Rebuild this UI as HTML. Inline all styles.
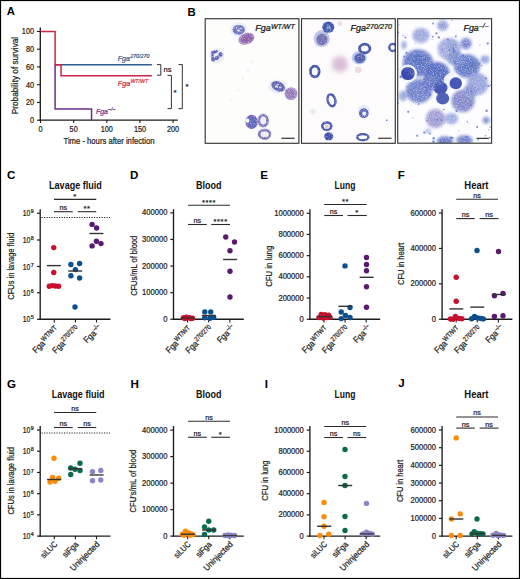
<!DOCTYPE html>
<html><head><meta charset="utf-8"><style>
html,body{margin:0;padding:0;background:#fff;}
svg{display:block;font-family:"Liberation Sans", sans-serif;}
</style></head><body>
<svg width="520" height="579" viewBox="0 0 520 579">
<rect width="520" height="579" fill="#fff"/>
<defs>
<filter id="bl" x="-50%" y="-50%" width="200%" height="200%"><feGaussianBlur stdDeviation="0.6"/></filter>
<filter id="bl2" x="-50%" y="-50%" width="200%" height="200%"><feGaussianBlur stdDeviation="1.4"/></filter>
<filter id="bl3" x="-50%" y="-50%" width="200%" height="200%"><feGaussianBlur stdDeviation="2.5"/></filter>
<filter id="speck" x="398" y="19" width="94" height="124" filterUnits="userSpaceOnUse">
 <feTurbulence type="fractalNoise" baseFrequency="0.75" numOctaves="2" seed="7"/>
 <feColorMatrix type="matrix" values="0 0 0 0 1  0 0 0 0 1  0 0 0 0 1  3.2 0 0 0 -1.45"/>
</filter>
<filter id="speck2" x="398" y="19" width="94" height="124" filterUnits="userSpaceOnUse">
 <feTurbulence type="fractalNoise" baseFrequency="0.9" numOctaves="1" seed="11"/>
 <feColorMatrix type="matrix" values="0 0 0 0 0.25  0 0 0 0 0.3  0 0 0 0 0.65  0 3.5 0 0 -2.0"/>
</filter>
<filter id="gr1" filterUnits="userSpaceOnUse" x="205" y="18" width="95" height="126">
 <feTurbulence type="fractalNoise" baseFrequency="0.85" numOctaves="2" seed="4" result="n"/>
 <feColorMatrix in="n" type="matrix" values="0 0 0 0 0  0 0 0 0 0  0 0 0 0 0  0 0 0 -1.6 1.75" result="na"/>
 <feComposite in="SourceGraphic" in2="na" operator="in" result="g"/>
 <feGaussianBlur in="g" stdDeviation="0.45"/>
</filter>
<filter id="gr2" filterUnits="userSpaceOnUse" x="301" y="18" width="96" height="126">
 <feTurbulence type="fractalNoise" baseFrequency="0.85" numOctaves="2" seed="9" result="n"/>
 <feColorMatrix in="n" type="matrix" values="0 0 0 0 0  0 0 0 0 0  0 0 0 0 0  0 0 0 -1.4 1.7" result="na"/>
 <feComposite in="SourceGraphic" in2="na" operator="in" result="g"/>
 <feGaussianBlur in="g" stdDeviation="0.45"/>
</filter>
<clipPath id="cp1"><rect x="205.5" y="19" width="93.5" height="124"/></clipPath>
<clipPath id="cp2"><rect x="301.8" y="19" width="94" height="124"/></clipPath>
<clipPath id="cp3"><rect x="398" y="19" width="94" height="124"/></clipPath>
</defs>
<g clip-path="url(#cp1)">
<rect x="205.5" y="19" width="93.5" height="124" fill="#fdfdfb"/>
<g filter="url(#gr1)">
<ellipse cx="238.8" cy="29.8" rx="8.5" ry="7.5" fill="#e9ecf6" />
<ellipse cx="217" cy="55.6" rx="7.6" ry="7.6" fill="#e9ecf6" />
<ellipse cx="277.5" cy="86.4" rx="9.5" ry="7" fill="#e9ecf6" />
<ellipse cx="263.5" cy="120.5" rx="6.5" ry="8" fill="#e9ecf6" />
<ellipse cx="264.4" cy="133" rx="7.5" ry="6" fill="#e9ecf6" />
<ellipse cx="248" cy="70" rx="2" ry="2" fill="#eef0f7" />
<ellipse cx="243" cy="78" rx="1.5" ry="1.5" fill="#eef0f7" />
<ellipse cx="238" cy="90" rx="1.2" ry="1.2" fill="#eef0f7" />
<ellipse cx="252" cy="62" rx="1.5" ry="1.5" fill="#eef0f7" />
<ellipse cx="231" cy="100" rx="1" ry="1" fill="#eef0f7" />
<ellipse cx="238.8" cy="29.8" rx="6.2" ry="4.9" fill="#6a74bd" />
<ellipse cx="238.5" cy="30.5" rx="1.6" ry="1.0" fill="#dfe3f3" />
<ellipse cx="241" cy="28.5" rx="0.9" ry="0.8" fill="#dfe3f3" />
<ellipse cx="236.5" cy="28" rx="0.8" ry="0.7" fill="#dfe3f3" />
<ellipse cx="246.4" cy="38.7" rx="8.3" ry="5.6" fill="#a783c0" transform="rotate(-20 246.4 38.7)"/>
<ellipse cx="246.8" cy="38.5" rx="6.2" ry="4.0" fill="#8a5ca9" transform="rotate(-20 246.8 38.5)"/>
<ellipse cx="214.5" cy="52" rx="3.6" ry="1.6" fill="#5a63b5" transform="rotate(-15 214.5 52)"/>
<ellipse cx="220.5" cy="54.6" rx="2.1" ry="2.6" fill="#5a63b5" transform="rotate(0 220.5 54.6)"/>
<ellipse cx="217" cy="57.8" rx="2.6" ry="2.0" fill="#5a63b5" transform="rotate(-30 217 57.8)"/>
<ellipse cx="213.2" cy="59.6" rx="2.2" ry="2.0" fill="#5a63b5" transform="rotate(0 213.2 59.6)"/>
<ellipse cx="212.6" cy="55.6" rx="1.3" ry="2.9" fill="#5a63b5" transform="rotate(0 212.6 55.6)"/>
<ellipse cx="278.1" cy="86.4" rx="7.3" ry="4.8" fill="#6468b2" transform="rotate(25 278.1 86.4)"/>
<ellipse cx="276.5" cy="86.5" rx="1.6" ry="1.0" fill="#e6e8f4" />
<ellipse cx="280" cy="87.5" rx="1.2" ry="0.8" fill="#e6e8f4" />
<ellipse cx="278" cy="84.5" rx="1" ry="0.7" fill="#e6e8f4" />
<ellipse cx="291" cy="93.7" rx="6.5" ry="6.5" fill="#a48cc6" />
<ellipse cx="291" cy="93.7" rx="4.8" ry="4.8" fill="#9078b6" />
<ellipse cx="251.6" cy="121.9" rx="6.2" ry="7.2" fill="#7263b3" />
<ellipse cx="252.6" cy="122.2" rx="4.2" ry="5.2" fill="#5468bc" />
<ellipse cx="247.4" cy="120.6" rx="2.0" ry="2.2" fill="#f4f5fb" />
<ellipse cx="263.2" cy="120.6" rx="4.3" ry="5.3" fill="none" stroke="#7a6fb8" stroke-width="2.6" />
<ellipse cx="262.8" cy="121.2" rx="1.4" ry="2.0" fill="#eef0f8" />
<ellipse cx="264.6" cy="134.2" rx="5.4" ry="4.2" fill="none" stroke="#7c70b6" stroke-width="2.6" />
<ellipse cx="264.4" cy="134.6" rx="2.2" ry="1.4" fill="#eceef7" />
</g>
<rect x="281.4" y="137.7" width="13.2" height="1.1" fill="#222"/>
</g>
<g clip-path="url(#cp2)">
<rect x="301.8" y="19" width="94" height="124" fill="#fdfbfc"/>
<g filter="url(#bl3)">
<ellipse cx="339.8" cy="64.2" rx="8" ry="8" fill="#d9bdd8" />
</g>
<g filter="url(#gr2)">
<ellipse cx="339.8" cy="23.5" rx="2.4" ry="2.4" fill="#efd9e2" />
<ellipse cx="358.2" cy="69.7" rx="3.3" ry="3.3" fill="#efd7df" />
<ellipse cx="321.7" cy="38.7" rx="8" ry="8.4" fill="#b3c0e6" />
<ellipse cx="321.9" cy="39.5" rx="5.5" ry="5.8" fill="#7572b6" />
<ellipse cx="328.3" cy="27.2" rx="6" ry="5.6" fill="#3f56aa" />
<ellipse cx="328.5" cy="27.4" rx="2.5" ry="2" fill="#7d8cc8" />
<ellipse cx="359.2" cy="57.7" rx="7.6" ry="6.7" fill="#b8c6e8" />
<ellipse cx="359.8" cy="58.2" rx="5.5" ry="5" fill="#5962b2" />
<ellipse cx="364.7" cy="48.5" rx="5.2" ry="4.3" fill="none" stroke="#4154a8" stroke-width="2.8" />
<ellipse cx="364.7" cy="48.5" rx="2.9" ry="2.2" fill="#fbfbfd" />
<ellipse cx="314.8" cy="71.5" rx="4.4" ry="5.4" fill="none" stroke="#4154a8" stroke-width="2.7" />
<ellipse cx="314.8" cy="71.5" rx="2.1" ry="3.0" fill="#fafafd" />
<ellipse cx="331.5" cy="100.3" rx="3.8" ry="6" fill="none" stroke="#4657aa" stroke-width="2.4" transform="rotate(-15 331.5 100.3)"/>
<ellipse cx="363.8" cy="110" rx="6" ry="5" fill="#e6eaf5" />
<ellipse cx="363.8" cy="113.2" rx="4.8" ry="5" fill="#5a66b4" />
<ellipse cx="364.2" cy="113.6" rx="2" ry="2.2" fill="#eef0f8" />
<ellipse cx="326.8" cy="126.2" rx="4.5" ry="3.8" fill="none" stroke="#4659ad" stroke-width="2.5" />
<ellipse cx="326.8" cy="126.4" rx="2.3" ry="1.6" fill="#e8c4d6" />
<ellipse cx="328.7" cy="136.3" rx="4.5" ry="4" fill="#4054aa" />
<ellipse cx="362.8" cy="137.2" rx="5.6" ry="3" fill="none" stroke="#4659ad" stroke-width="2.3" />
<ellipse cx="392.8" cy="47.5" rx="3.5" ry="3.6" fill="none" stroke="#4659ad" stroke-width="2.3" />
<ellipse cx="313" cy="111.4" rx="2.8" ry="2.8" fill="#e8ebf5" />
<ellipse cx="386.8" cy="120.2" rx="0.8" ry="0.8" fill="#3050b0" />
</g>
<rect x="378.2" y="137.7" width="13.3" height="1.1" fill="#222"/>
</g>
<mask id="m3" maskUnits="userSpaceOnUse" x="398" y="19" width="94" height="124"><g filter="url(#bl2)"><ellipse cx="421" cy="35.4" rx="8.5" ry="7.5" fill="#fff"/><ellipse cx="442.7" cy="25.6" rx="5.5" ry="5" fill="#fff"/><ellipse cx="449.2" cy="49" rx="11.5" ry="11" fill="#fff"/><ellipse cx="452" cy="45" rx="5" ry="5" fill="#fff"/><ellipse cx="466" cy="43.5" rx="5.5" ry="5.5" fill="#fff"/><ellipse cx="418" cy="63" rx="15" ry="13.5" fill="#fff"/><ellipse cx="437" cy="74" rx="12.5" ry="12" fill="#fff"/><ellipse cx="467" cy="66" rx="13" ry="11.5" fill="#fff"/><ellipse cx="455" cy="58" rx="8" ry="7" fill="#fff"/><ellipse cx="419" cy="91" rx="13" ry="12" fill="#fff"/><ellipse cx="430" cy="83" rx="8" ry="8" fill="#fff"/><ellipse cx="477.5" cy="84" rx="10.5" ry="11" fill="#fff"/><ellipse cx="463" cy="101" rx="11.5" ry="11" fill="#fff"/><ellipse cx="470" cy="92" rx="7" ry="7" fill="#fff"/><ellipse cx="435.5" cy="118.5" rx="9.5" ry="9.5" fill="#fff"/><ellipse cx="451.5" cy="118.5" rx="6.5" ry="5.5" fill="#fff"/><ellipse cx="444.9" cy="141" rx="8" ry="4.5" fill="#fff"/><ellipse cx="464.5" cy="140" rx="8" ry="4.5" fill="#fff"/><ellipse cx="485" cy="59.4" rx="4.5" ry="4" fill="#fff"/><ellipse cx="486.2" cy="120.3" rx="3.5" ry="3.2" fill="#fff"/><ellipse cx="428" cy="131" rx="3" ry="2" fill="#fff"/><ellipse cx="404" cy="45" rx="2.5" ry="4" fill="#fff"/><ellipse cx="403" cy="96" rx="4" ry="5" fill="#fff"/></g></mask>
<g clip-path="url(#cp3)">
<rect x="398" y="19" width="94" height="124" fill="#fdfdff"/>
<g filter="url(#bl2)">
<ellipse cx="421" cy="35.4" rx="8.5" ry="7.5" fill="#9da8dd" />
<ellipse cx="442.7" cy="25.6" rx="5.5" ry="5" fill="#94a0da" />
<ellipse cx="449.2" cy="49" rx="11.5" ry="11" fill="#a4aee1" />
<ellipse cx="452" cy="45" rx="5" ry="5" fill="#8f9cd7" />
<ellipse cx="466" cy="43.5" rx="5.5" ry="5.5" fill="#7684cd" />
<ellipse cx="418" cy="63" rx="15" ry="13.5" fill="#6277c7" />
<ellipse cx="437" cy="74" rx="12.5" ry="12" fill="#576bc2" />
<ellipse cx="467" cy="66" rx="13" ry="11.5" fill="#647ac8" />
<ellipse cx="455" cy="58" rx="8" ry="7" fill="#7b8ed1" />
<ellipse cx="419" cy="91" rx="13" ry="12" fill="#7183cb" />
<ellipse cx="430" cy="83" rx="8" ry="8" fill="#6879c7" />
<ellipse cx="477.5" cy="84" rx="10.5" ry="11" fill="#9aa5dd" />
<ellipse cx="463" cy="101" rx="11.5" ry="11" fill="#8488ca" />
<ellipse cx="470" cy="92" rx="7" ry="7" fill="#8894d3" />
<ellipse cx="435.5" cy="118.5" rx="9.5" ry="9.5" fill="#a19dd5" />
<ellipse cx="451.5" cy="118.5" rx="6.5" ry="5.5" fill="#9dace1" />
<ellipse cx="444.9" cy="141" rx="8" ry="4.5" fill="#677ac8" />
<ellipse cx="464.5" cy="140" rx="8" ry="4.5" fill="#6f81cb" />
<ellipse cx="485" cy="59.4" rx="4.5" ry="4" fill="#97a4dd" />
<ellipse cx="486.2" cy="120.3" rx="3.5" ry="3.2" fill="#8090d3" />
<ellipse cx="428" cy="131" rx="3" ry="2" fill="#a8b2e3" />
<ellipse cx="404" cy="45" rx="2.5" ry="4" fill="#9da8de" />
<ellipse cx="403" cy="96" rx="4" ry="5" fill="#98a5dd" />
</g>
<g filter="url(#bl)">
<ellipse cx="407.9" cy="73.5" rx="9.2" ry="9" fill="#f4f5fc" />
<ellipse cx="407.9" cy="73.5" rx="6.8" ry="6.6" fill="#3a4cab" />
<ellipse cx="452.5" cy="81.1" rx="8.9" ry="8.7" fill="#f3f4fb" />
<ellipse cx="455.8" cy="83.3" rx="6.2" ry="6" fill="#4458b3" />
<ellipse cx="440.5" cy="88" rx="7" ry="6.5" fill="#4659b5" />
<ellipse cx="442.7" cy="98.5" rx="6.5" ry="6" fill="#4e62b8" />
<ellipse cx="419" cy="60" rx="7" ry="6" fill="#586fc2" />
<ellipse cx="470" cy="66" rx="6" ry="5" fill="#5d76c4" />
</g>
<g mask="url(#m3)"><rect x="398" y="19" width="94" height="124" filter="url(#speck2)" opacity="0.6"/><rect x="398" y="19" width="94" height="124" filter="url(#speck)" opacity="0.45"/></g>
<circle cx="456.6" cy="111.0" r="1.12" fill="#5f78cc" opacity="0.85"/>
<circle cx="486.6" cy="110.7" r="1.23" fill="#5f78cc" opacity="0.85"/>
<circle cx="400.7" cy="76.7" r="1.25" fill="#5f78cc" opacity="0.85"/>
<circle cx="459.0" cy="130.7" r="0.50" fill="#5f78cc" opacity="0.85"/>
<circle cx="442.1" cy="49.6" r="0.89" fill="#5f78cc" opacity="0.85"/>
<circle cx="452.0" cy="20.6" r="0.60" fill="#5f78cc" opacity="0.85"/>
<circle cx="424.3" cy="132.6" r="1.09" fill="#5f78cc" opacity="0.85"/>
<circle cx="413.0" cy="117.8" r="0.52" fill="#5f78cc" opacity="0.85"/>
<circle cx="456.0" cy="34.7" r="0.40" fill="#5f78cc" opacity="0.85"/>
<circle cx="479.9" cy="45.0" r="0.59" fill="#5f78cc" opacity="0.85"/>
<circle cx="490.3" cy="127.2" r="0.66" fill="#5f78cc" opacity="0.85"/>
<circle cx="488.4" cy="85.9" r="1.01" fill="#5f78cc" opacity="0.85"/>
<circle cx="417.2" cy="135.7" r="1.02" fill="#5f78cc" opacity="0.85"/>
<circle cx="488.9" cy="129.8" r="0.67" fill="#5f78cc" opacity="0.85"/>
<circle cx="432.0" cy="39.6" r="0.53" fill="#5f78cc" opacity="0.85"/>
<circle cx="404.1" cy="56.4" r="0.94" fill="#5f78cc" opacity="0.85"/>
<circle cx="398.3" cy="103.1" r="0.70" fill="#5f78cc" opacity="0.85"/>
<circle cx="427.1" cy="120.5" r="0.83" fill="#5f78cc" opacity="0.85"/>
<circle cx="427.7" cy="78.7" r="1.03" fill="#5f78cc" opacity="0.85"/>
<circle cx="403.4" cy="139.9" r="0.42" fill="#5f78cc" opacity="0.85"/>
<circle cx="468.5" cy="123.8" r="0.42" fill="#5f78cc" opacity="0.85"/>
<circle cx="472.0" cy="64.4" r="0.92" fill="#5f78cc" opacity="0.85"/>
<circle cx="398.9" cy="24.8" r="0.56" fill="#5f78cc" opacity="0.85"/>
<circle cx="487.8" cy="43.4" r="1.08" fill="#5f78cc" opacity="0.85"/>
<circle cx="485.4" cy="135.8" r="0.71" fill="#5f78cc" opacity="0.85"/>
<circle cx="431.4" cy="84.1" r="1.10" fill="#5f78cc" opacity="0.85"/>
<circle cx="408.2" cy="111.8" r="1.12" fill="#5f78cc" opacity="0.85"/>
<circle cx="430.0" cy="94.7" r="1.23" fill="#5f78cc" opacity="0.85"/>
<circle cx="430.0" cy="133.6" r="0.89" fill="#5f78cc" opacity="0.85"/>
<circle cx="427.4" cy="58.3" r="0.56" fill="#5f78cc" opacity="0.85"/>
<circle cx="405.4" cy="37.5" r="1.02" fill="#5f78cc" opacity="0.85"/>
<circle cx="491.7" cy="39.0" r="0.44" fill="#5f78cc" opacity="0.85"/>
<circle cx="490.7" cy="85.2" r="0.77" fill="#5f78cc" opacity="0.85"/>
<circle cx="420.3" cy="92.7" r="1.14" fill="#5f78cc" opacity="0.85"/>
<circle cx="440.8" cy="71.3" r="0.45" fill="#5f78cc" opacity="0.85"/>
<circle cx="444.4" cy="123.0" r="0.52" fill="#5f78cc" opacity="0.85"/>
<circle cx="466.8" cy="136.8" r="0.97" fill="#5f78cc" opacity="0.85"/>
<circle cx="438.8" cy="37.5" r="1.16" fill="#5f78cc" opacity="0.85"/>
<circle cx="425.7" cy="75.2" r="1.30" fill="#5f78cc" opacity="0.85"/>
<circle cx="478.1" cy="140.0" r="0.81" fill="#5f78cc" opacity="0.85"/>
<circle cx="443.9" cy="109.5" r="0.83" fill="#5f78cc" opacity="0.85"/>
<circle cx="425.4" cy="69.1" r="0.53" fill="#5f78cc" opacity="0.85"/>
<circle cx="433.4" cy="141.6" r="1.26" fill="#5f78cc" opacity="0.85"/>
<circle cx="456.9" cy="80.9" r="0.70" fill="#5f78cc" opacity="0.85"/>
<circle cx="406.4" cy="52.8" r="1.10" fill="#5f78cc" opacity="0.85"/>
<circle cx="479.5" cy="63.8" r="1.11" fill="#5f78cc" opacity="0.85"/>
<circle cx="470.8" cy="105.1" r="1.00" fill="#5f78cc" opacity="0.85"/>
<circle cx="469.4" cy="64.1" r="1.03" fill="#5f78cc" opacity="0.85"/>
<circle cx="424.4" cy="79.2" r="1.09" fill="#5f78cc" opacity="0.85"/>
<circle cx="462.9" cy="55.4" r="1.25" fill="#5f78cc" opacity="0.85"/>
<circle cx="459.1" cy="91.0" r="0.41" fill="#5f78cc" opacity="0.85"/>
<circle cx="449.4" cy="50.1" r="1.00" fill="#5f78cc" opacity="0.85"/>
<circle cx="441.5" cy="120.3" r="0.98" fill="#5f78cc" opacity="0.85"/>
<circle cx="473.0" cy="62.1" r="0.98" fill="#5f78cc" opacity="0.85"/>
<circle cx="467.4" cy="121.7" r="0.72" fill="#5f78cc" opacity="0.85"/>
<circle cx="477.2" cy="126.9" r="1.02" fill="#5f78cc" opacity="0.85"/>
<circle cx="489.8" cy="137.6" r="0.87" fill="#5f78cc" opacity="0.85"/>
<circle cx="447.8" cy="39.6" r="1.15" fill="#5f78cc" opacity="0.85"/>
<circle cx="486.1" cy="78.2" r="1.02" fill="#5f78cc" opacity="0.85"/>
<circle cx="465.7" cy="109.6" r="0.55" fill="#5f78cc" opacity="0.85"/>
<circle cx="471.4" cy="91.0" r="1.00" fill="#5f78cc" opacity="0.85"/>
<circle cx="437.6" cy="96.3" r="1.10" fill="#5f78cc" opacity="0.85"/>
<circle cx="457.9" cy="108.3" r="0.42" fill="#5f78cc" opacity="0.85"/>
<circle cx="413.0" cy="73.7" r="0.99" fill="#5f78cc" opacity="0.85"/>
<circle cx="418.6" cy="104.1" r="0.97" fill="#5f78cc" opacity="0.85"/>
<circle cx="401.9" cy="77.5" r="0.60" fill="#5f78cc" opacity="0.85"/>
<circle cx="403.1" cy="35.6" r="0.69" fill="#5f78cc" opacity="0.85"/>
<circle cx="415.1" cy="43.0" r="0.43" fill="#5f78cc" opacity="0.85"/>
<circle cx="441.7" cy="66.2" r="0.95" fill="#5f78cc" opacity="0.85"/>
<circle cx="453.5" cy="48.5" r="1.21" fill="#5f78cc" opacity="0.85"/>
<circle cx="398.1" cy="69.3" r="0.65" fill="#5f78cc" opacity="0.85"/>
<circle cx="436.5" cy="33.3" r="1.15" fill="#5f78cc" opacity="0.85"/>
<circle cx="433.1" cy="23.5" r="0.95" fill="#5f78cc" opacity="0.85"/>
<circle cx="406.9" cy="86.6" r="0.71" fill="#5f78cc" opacity="0.85"/>
<circle cx="452.6" cy="137.8" r="1.14" fill="#5f78cc" opacity="0.85"/>
<circle cx="437.4" cy="119.8" r="0.98" fill="#5f78cc" opacity="0.85"/>
<circle cx="432.7" cy="36.6" r="0.94" fill="#5f78cc" opacity="0.85"/>
<circle cx="451.0" cy="137.7" r="1.27" fill="#5f78cc" opacity="0.85"/>
<circle cx="455.2" cy="62.5" r="1.20" fill="#5f78cc" opacity="0.85"/>
<circle cx="398.1" cy="32.4" r="0.91" fill="#5f78cc" opacity="0.85"/>
<circle cx="455.8" cy="36.4" r="0.97" fill="#5f78cc" opacity="0.85"/>
<circle cx="481.8" cy="65.6" r="0.79" fill="#5f78cc" opacity="0.85"/>
<circle cx="419.3" cy="55.1" r="1.28" fill="#5f78cc" opacity="0.85"/>
<circle cx="433.7" cy="138.2" r="1.22" fill="#5f78cc" opacity="0.85"/>
<circle cx="454.0" cy="51.2" r="1.28" fill="#5f78cc" opacity="0.85"/>
<circle cx="444.7" cy="70.5" r="0.69" fill="#5f78cc" opacity="0.85"/>
<rect x="476.5" y="137.8" width="12.3" height="1.1" fill="#222"/>
</g>
<rect x="205.2" y="18.7" width="93.7" height="124.6" fill="none" stroke="#363636" stroke-width="1.15"/>
<rect x="301.5" y="18.7" width="93.8" height="124.6" fill="none" stroke="#363636" stroke-width="1.15"/>
<rect x="397.7" y="18.7" width="93.9" height="124.5" fill="none" stroke="#363636" stroke-width="1.15"/>
<text x="6.8" y="15.1" font-size="11.3" text-anchor="start" font-weight="bold" font-style="normal" fill="#000" >A</text>
<text x="187.5" y="16.3" font-size="11.3" text-anchor="start" font-weight="bold" font-style="normal" fill="#000" >B</text>
<text x="6.9" y="179.3" font-size="11.6" text-anchor="start" font-weight="bold" font-style="normal" fill="#000" >C</text>
<text x="130" y="179.3" font-size="11.6" text-anchor="start" font-weight="bold" font-style="normal" fill="#000" >D</text>
<text x="260.3" y="179.3" font-size="11.6" text-anchor="start" font-weight="bold" font-style="normal" fill="#000" >E</text>
<text x="397.8" y="179.4" font-size="11.6" text-anchor="start" font-weight="bold" font-style="normal" fill="#000" >F</text>
<text x="6.9" y="387.5" font-size="11.6" text-anchor="start" font-weight="bold" font-style="normal" fill="#000" >G</text>
<text x="130.5" y="387.5" font-size="11.6" text-anchor="start" font-weight="bold" font-style="normal" fill="#000" >H</text>
<text x="264.8" y="387.5" font-size="11.6" text-anchor="start" font-weight="bold" font-style="normal" fill="#000" >I</text>
<text x="398.2" y="387.2" font-size="11.6" text-anchor="start" font-weight="bold" font-style="normal" fill="#000" >J</text>
<line x1="40.3" y1="27.5" x2="40.3" y2="120.8" stroke="#1c1c1c" stroke-width="1.35" />
<line x1="39.6" y1="120.15" x2="177.8" y2="120.15" stroke="#1c1c1c" stroke-width="1.3" />
<line x1="37" y1="120.2" x2="40.5" y2="120.2" stroke="#1c1c1c" stroke-width="1.1" />
<text x="34" y="123.2" font-size="8.3" text-anchor="end" font-weight="normal" font-style="normal" fill="#1a1a1a" textLength="4.05" lengthAdjust="spacingAndGlyphs"  stroke="#1a1a1a" stroke-width="0.22">0</text>
<line x1="37" y1="102.44800000000001" x2="40.5" y2="102.44800000000001" stroke="#1c1c1c" stroke-width="1.1" />
<text x="34" y="105.44800000000001" font-size="8.3" text-anchor="end" font-weight="normal" font-style="normal" fill="#1a1a1a" textLength="8.1" lengthAdjust="spacingAndGlyphs"  stroke="#1a1a1a" stroke-width="0.22">20</text>
<line x1="37" y1="84.696" x2="40.5" y2="84.696" stroke="#1c1c1c" stroke-width="1.1" />
<text x="34" y="87.696" font-size="8.3" text-anchor="end" font-weight="normal" font-style="normal" fill="#1a1a1a" textLength="8.1" lengthAdjust="spacingAndGlyphs"  stroke="#1a1a1a" stroke-width="0.22">40</text>
<line x1="37" y1="66.944" x2="40.5" y2="66.944" stroke="#1c1c1c" stroke-width="1.1" />
<text x="34" y="69.944" font-size="8.3" text-anchor="end" font-weight="normal" font-style="normal" fill="#1a1a1a" textLength="8.1" lengthAdjust="spacingAndGlyphs"  stroke="#1a1a1a" stroke-width="0.22">60</text>
<line x1="37" y1="49.19200000000001" x2="40.5" y2="49.19200000000001" stroke="#1c1c1c" stroke-width="1.1" />
<text x="34" y="52.19200000000001" font-size="8.3" text-anchor="end" font-weight="normal" font-style="normal" fill="#1a1a1a" textLength="8.1" lengthAdjust="spacingAndGlyphs"  stroke="#1a1a1a" stroke-width="0.22">80</text>
<line x1="37" y1="31.440000000000012" x2="40.5" y2="31.440000000000012" stroke="#1c1c1c" stroke-width="1.1" />
<text x="34" y="34.44000000000001" font-size="8.3" text-anchor="end" font-weight="normal" font-style="normal" fill="#1a1a1a" textLength="12.15" lengthAdjust="spacingAndGlyphs"  stroke="#1a1a1a" stroke-width="0.22">100</text>
<line x1="40.5" y1="120" x2="40.5" y2="123" stroke="#1c1c1c" stroke-width="1.1" />
<text x="40.5" y="132.4" font-size="8.3" text-anchor="middle" font-weight="normal" font-style="normal" fill="#1a1a1a" textLength="4.05" lengthAdjust="spacingAndGlyphs"  stroke="#1a1a1a" stroke-width="0.22">0</text>
<line x1="73.65" y1="120" x2="73.65" y2="123" stroke="#1c1c1c" stroke-width="1.1" />
<text x="73.65" y="132.4" font-size="8.3" text-anchor="middle" font-weight="normal" font-style="normal" fill="#1a1a1a" textLength="8.1" lengthAdjust="spacingAndGlyphs"  stroke="#1a1a1a" stroke-width="0.22">50</text>
<line x1="106.8" y1="120" x2="106.8" y2="123" stroke="#1c1c1c" stroke-width="1.1" />
<text x="106.8" y="132.4" font-size="8.3" text-anchor="middle" font-weight="normal" font-style="normal" fill="#1a1a1a" textLength="12.15" lengthAdjust="spacingAndGlyphs"  stroke="#1a1a1a" stroke-width="0.22">100</text>
<line x1="139.95" y1="120" x2="139.95" y2="123" stroke="#1c1c1c" stroke-width="1.1" />
<text x="139.95" y="132.4" font-size="8.3" text-anchor="middle" font-weight="normal" font-style="normal" fill="#1a1a1a" textLength="12.15" lengthAdjust="spacingAndGlyphs"  stroke="#1a1a1a" stroke-width="0.22">150</text>
<line x1="173.1" y1="120" x2="173.1" y2="123" stroke="#1c1c1c" stroke-width="1.1" />
<text x="173.1" y="132.4" font-size="8.3" text-anchor="middle" font-weight="normal" font-style="normal" fill="#1a1a1a" textLength="12.15" lengthAdjust="spacingAndGlyphs"  stroke="#1a1a1a" stroke-width="0.22">200</text>
<text x="109" y="143.5" font-size="8.8" text-anchor="middle" font-weight="normal" font-style="normal" fill="#1a1a1a" textLength="91" lengthAdjust="spacingAndGlyphs"  stroke="#1a1a1a" stroke-width="0.22">Time - hours after infection</text>
<text transform="translate(17.5,75.5) rotate(-90)" font-size="8.8" text-anchor="middle" fill="#1a1a1a" textLength="77.3" lengthAdjust="spacingAndGlyphs" stroke="#1a1a1a" stroke-width="0.22">Probability of survival</text>
<polyline points="55.086,64.72500000000001 151.88400000000001,64.72500000000001" fill="none" stroke="#2d5d92" stroke-width="1.5"/>
<polyline points="55.086,64.72500000000001 55.086,109.105 91.551,109.105 91.551,120.2" fill="none" stroke="#6b2c8c" stroke-width="1.5"/>
<polyline points="40.5,31.440000000000012 55.086,31.440000000000012 55.086,64.72500000000001 61.053,64.72500000000001 61.053,75.82000000000001 151.88400000000001,75.82000000000001" fill="none" stroke="#cf2347" stroke-width="1.5"/>
<text x="117.80" y="60.6" font-size="7.4" font-style="italic" fill="#2d5d92" textLength="12.2" lengthAdjust="spacingAndGlyphs" stroke="#2d5d92" stroke-width="0.22">Fga</text><text x="130.20" y="57.9" font-size="5.6" font-style="italic" fill="#2d5d92" textLength="19.3" lengthAdjust="spacingAndGlyphs" stroke="#2d5d92" stroke-width="0.22">270/270</text>
<text x="117.80" y="85.5" font-size="7.4" font-style="italic" fill="#cf2347" textLength="12.4" lengthAdjust="spacingAndGlyphs" stroke="#cf2347" stroke-width="0.22">Fga</text><text x="130.40" y="82.5" font-size="5.6" font-style="italic" fill="#cf2347" textLength="17.7" lengthAdjust="spacingAndGlyphs" stroke="#cf2347" stroke-width="0.22">WT/WT</text>
<text x="96.00" y="113.8" font-size="7.2" font-style="italic" fill="#6b2c8c" textLength="11.9" lengthAdjust="spacingAndGlyphs" stroke="#6b2c8c" stroke-width="0.22">Fga</text><text x="108.10" y="110.8" font-size="5.6" font-style="italic" fill="#6b2c8c" textLength="7.3" lengthAdjust="spacingAndGlyphs" stroke="#6b2c8c" stroke-width="0.22">&#8211;/&#8211;</text>
<polyline points="157,64.6 160.8,64.6 160.8,75.2 157,75.2" fill="none" stroke="#333" stroke-width="1"/>
<text x="163.6" y="71.5" font-size="7.5" text-anchor="start" font-weight="normal" font-style="normal" fill="#222" textLength="8" lengthAdjust="spacingAndGlyphs"  stroke="#222" stroke-width="0.22">ns</text>
<polyline points="167.5,75.4 171.4,75.4 171.4,108.6 167.5,108.6" fill="none" stroke="#333" stroke-width="1"/>
<text x="173.5" y="94.5" font-size="8" text-anchor="start" font-weight="normal" font-style="normal" fill="#222"  stroke="#222" stroke-width="0.22">*</text>
<polyline points="178.5,64.6 182.3,64.6 182.3,108.6 178.5,108.6" fill="none" stroke="#333" stroke-width="1"/>
<text x="185.5" y="88.5" font-size="8" text-anchor="start" font-weight="normal" font-style="normal" fill="#222"  stroke="#222" stroke-width="0.22">*</text>
<text x="255.30" y="31.4" font-size="8.5" font-style="italic" fill="#111" textLength="15.4" lengthAdjust="spacingAndGlyphs" stroke="#111" stroke-width="0.22">Fga</text><text x="270.90" y="29.0" font-size="7" font-style="italic" fill="#111" textLength="24" lengthAdjust="spacingAndGlyphs" stroke="#111" stroke-width="0.22">WT/WT</text>
<text x="350.50" y="31.3" font-size="8.5" font-style="italic" fill="#111" textLength="15.4" lengthAdjust="spacingAndGlyphs" stroke="#111" stroke-width="0.22">Fga</text><text x="366.10" y="29.0" font-size="7" font-style="italic" fill="#111" textLength="26" lengthAdjust="spacingAndGlyphs" stroke="#111" stroke-width="0.22">270/270</text>
<text x="463.50" y="30.8" font-size="8.5" font-style="italic" fill="#111" textLength="15.3" lengthAdjust="spacingAndGlyphs" stroke="#111" stroke-width="0.22">Fga</text><text x="479.00" y="28.400000000000002" font-size="7" font-style="italic" fill="#111" textLength="9.6" lengthAdjust="spacingAndGlyphs" stroke="#111" stroke-width="0.22">&#8211;/&#8211;</text>
<line x1="40.2" y1="209.25" x2="40.2" y2="319.85" stroke="#1c1c1c" stroke-width="1.35" />
<line x1="39.5" y1="319.25" x2="110.5" y2="319.25" stroke="#1c1c1c" stroke-width="1.35" />
<line x1="37" y1="213.25" x2="40" y2="213.25" stroke="#1c1c1c" stroke-width="1.2" />
<text x="22.8" y="216.25" font-size="8.4" fill="#1a1a1a" textLength="7.6" lengthAdjust="spacingAndGlyphs" stroke="#1a1a1a" stroke-width="0.22">10</text><text x="30.8" y="213.45" font-size="5.4" fill="#1a1a1a" stroke="#1a1a1a" stroke-width="0.22">9</text>
<line x1="37" y1="240" x2="40" y2="240" stroke="#1c1c1c" stroke-width="1.2" />
<text x="22.8" y="243.0" font-size="8.4" fill="#1a1a1a" textLength="7.6" lengthAdjust="spacingAndGlyphs" stroke="#1a1a1a" stroke-width="0.22">10</text><text x="30.8" y="240.2" font-size="5.4" fill="#1a1a1a" stroke="#1a1a1a" stroke-width="0.22">8</text>
<line x1="37" y1="266.5" x2="40" y2="266.5" stroke="#1c1c1c" stroke-width="1.2" />
<text x="22.8" y="269.5" font-size="8.4" fill="#1a1a1a" textLength="7.6" lengthAdjust="spacingAndGlyphs" stroke="#1a1a1a" stroke-width="0.22">10</text><text x="30.8" y="266.7" font-size="5.4" fill="#1a1a1a" stroke="#1a1a1a" stroke-width="0.22">7</text>
<line x1="37" y1="292.75" x2="40" y2="292.75" stroke="#1c1c1c" stroke-width="1.2" />
<text x="22.8" y="295.75" font-size="8.4" fill="#1a1a1a" textLength="7.6" lengthAdjust="spacingAndGlyphs" stroke="#1a1a1a" stroke-width="0.22">10</text><text x="30.8" y="292.95" font-size="5.4" fill="#1a1a1a" stroke="#1a1a1a" stroke-width="0.22">6</text>
<line x1="37" y1="319.25" x2="40" y2="319.25" stroke="#1c1c1c" stroke-width="1.2" />
<text x="22.8" y="322.25" font-size="8.4" fill="#1a1a1a" textLength="7.6" lengthAdjust="spacingAndGlyphs" stroke="#1a1a1a" stroke-width="0.22">10</text><text x="30.8" y="319.45" font-size="5.4" fill="#1a1a1a" stroke="#1a1a1a" stroke-width="0.22">5</text>
<line x1="54.3" y1="319.25" x2="54.3" y2="322.45" stroke="#1c1c1c" stroke-width="1.1" />
<line x1="75.4" y1="319.25" x2="75.4" y2="322.45" stroke="#1c1c1c" stroke-width="1.1" />
<line x1="96.5" y1="319.25" x2="96.5" y2="322.45" stroke="#1c1c1c" stroke-width="1.1" />
<text x="75.45" y="188.6" font-size="10" text-anchor="middle" font-weight="bold" font-style="normal" fill="#111" textLength="52.8" lengthAdjust="spacingAndGlyphs" >Lavage fluid</text>
<text transform="translate(14.0,266.2) rotate(-90)" font-size="8.4" text-anchor="middle" fill="#1a1a1a" textLength="67.1" lengthAdjust="spacingAndGlyphs" stroke="#1a1a1a" stroke-width="0.22">CFUs in lavage fluid</text>
<line x1="41.5" y1="217.5" x2="110" y2="217.5" stroke="#222" stroke-width="1" stroke-dasharray="1.2,1.3"/>
<line x1="54" y1="199.4" x2="96.25" y2="199.4" stroke="#2a2a2a" stroke-width="1.1" />
<text x="75.125" y="199.1" font-size="7.6" text-anchor="middle" font-weight="normal" font-style="normal" fill="#222" letter-spacing="0.6" stroke="#222" stroke-width="0.22">*</text>
<line x1="54" y1="211.7" x2="72.75" y2="211.7" stroke="#2a2a2a" stroke-width="1.1" />
<text x="63.375" y="210.1" font-size="7.2" text-anchor="middle" font-weight="normal" font-style="normal" fill="#222"  stroke="#222" stroke-width="0.22">ns</text>
<line x1="77.75" y1="211.7" x2="96.25" y2="211.7" stroke="#2a2a2a" stroke-width="1.1" />
<text x="87.0" y="211.39999999999998" font-size="7.6" text-anchor="middle" font-weight="normal" font-style="normal" fill="#222" letter-spacing="0.6" stroke="#222" stroke-width="0.22">**</text>
<circle cx="53.75" cy="247.6" r="2.7" fill="#c8102e"/>
<circle cx="53.75" cy="272.5" r="2.7" fill="#c8102e"/>
<circle cx="49.3" cy="286.3" r="2.7" fill="#c8102e"/>
<circle cx="52.3" cy="285.6" r="2.7" fill="#c8102e"/>
<circle cx="55.3" cy="286.0" r="2.7" fill="#c8102e"/>
<circle cx="58.6" cy="286.3" r="2.7" fill="#c8102e"/>
<circle cx="70.9" cy="264.5" r="2.7" fill="#0b4f8c"/>
<circle cx="79.6" cy="263.5" r="2.7" fill="#0b4f8c"/>
<circle cx="75.4" cy="269.6" r="2.7" fill="#0b4f8c"/>
<circle cx="70.9" cy="275.8" r="2.7" fill="#0b4f8c"/>
<circle cx="79.6" cy="278" r="2.7" fill="#0b4f8c"/>
<circle cx="75" cy="307" r="2.7" fill="#0b4f8c"/>
<circle cx="92.1" cy="224.4" r="2.7" fill="#5a1a6e"/>
<circle cx="96.6" cy="228" r="2.7" fill="#5a1a6e"/>
<circle cx="96.4" cy="241.2" r="2.7" fill="#5a1a6e"/>
<circle cx="101" cy="243.6" r="2.7" fill="#5a1a6e"/>
<circle cx="92.1" cy="245.9" r="2.7" fill="#5a1a6e"/>
<line x1="46.9" y1="265.6" x2="60.9" y2="265.6" stroke="#333" stroke-width="1.4" />
<line x1="68.2" y1="271" x2="82.2" y2="271" stroke="#333" stroke-width="1.4" />
<line x1="89.4" y1="233.5" x2="103.4" y2="233.5" stroke="#333" stroke-width="1.4" />
<g transform="translate(35.90,353.8) rotate(-45)"><text x="0.00" y="0" font-size="8.9" font-style="normal" fill="#1a1a1a" textLength="13.8" lengthAdjust="spacingAndGlyphs" stroke="#1a1a1a" stroke-width="0.22">Fga</text><text x="14.00" y="-3.0" font-size="6.9" font-style="normal" fill="#1a1a1a" textLength="19" lengthAdjust="spacingAndGlyphs" stroke="#1a1a1a" stroke-width="0.22">WT/WT</text></g>
<g transform="translate(55.80,354) rotate(-45)"><text x="0.00" y="0" font-size="8.9" font-style="normal" fill="#1a1a1a" textLength="13.8" lengthAdjust="spacingAndGlyphs" stroke="#1a1a1a" stroke-width="0.22">Fga</text><text x="14.00" y="-3.0" font-size="6.9" font-style="normal" fill="#1a1a1a" textLength="20.5" lengthAdjust="spacingAndGlyphs" stroke="#1a1a1a" stroke-width="0.22">270/270</text></g>
<g transform="translate(87.10,343.6) rotate(-45)"><text x="0.00" y="0" font-size="8.9" font-style="normal" fill="#1a1a1a" textLength="13.8" lengthAdjust="spacingAndGlyphs" stroke="#1a1a1a" stroke-width="0.22">Fga</text><text x="14.00" y="-3.0" font-size="6.9" font-style="normal" fill="#1a1a1a" textLength="7" lengthAdjust="spacingAndGlyphs" stroke="#1a1a1a" stroke-width="0.22">&#8211;/&#8211;</text></g>
<line x1="173.5" y1="209.25" x2="173.5" y2="319.85" stroke="#1c1c1c" stroke-width="1.35" />
<line x1="172.8" y1="319.25" x2="243.8" y2="319.25" stroke="#1c1c1c" stroke-width="1.35" />
<line x1="170.3" y1="212.85" x2="173.3" y2="212.85" stroke="#1c1c1c" stroke-width="1.2" />
<text x="167.4" y="215.35" font-size="8.4" text-anchor="end" fill="#1a1a1a" textLength="25.38" lengthAdjust="spacingAndGlyphs" stroke="#1a1a1a" stroke-width="0.22">400000</text>
<line x1="170.3" y1="239.45" x2="173.3" y2="239.45" stroke="#1c1c1c" stroke-width="1.2" />
<text x="167.4" y="241.95" font-size="8.4" text-anchor="end" fill="#1a1a1a" textLength="25.38" lengthAdjust="spacingAndGlyphs" stroke="#1a1a1a" stroke-width="0.22">300000</text>
<line x1="170.3" y1="266.05" x2="173.3" y2="266.05" stroke="#1c1c1c" stroke-width="1.2" />
<text x="167.4" y="268.55" font-size="8.4" text-anchor="end" fill="#1a1a1a" textLength="25.38" lengthAdjust="spacingAndGlyphs" stroke="#1a1a1a" stroke-width="0.22">200000</text>
<line x1="170.3" y1="292.65" x2="173.3" y2="292.65" stroke="#1c1c1c" stroke-width="1.2" />
<text x="167.4" y="295.15" font-size="8.4" text-anchor="end" fill="#1a1a1a" textLength="25.38" lengthAdjust="spacingAndGlyphs" stroke="#1a1a1a" stroke-width="0.22">100000</text>
<line x1="170.3" y1="319.25" x2="173.3" y2="319.25" stroke="#1c1c1c" stroke-width="1.2" />
<text x="167.4" y="321.75" font-size="8.4" text-anchor="end" fill="#1a1a1a" textLength="4.23" lengthAdjust="spacingAndGlyphs" stroke="#1a1a1a" stroke-width="0.22">0</text>
<line x1="187.60000000000002" y1="319.25" x2="187.60000000000002" y2="322.45" stroke="#1c1c1c" stroke-width="1.1" />
<line x1="208.70000000000002" y1="319.25" x2="208.70000000000002" y2="322.45" stroke="#1c1c1c" stroke-width="1.1" />
<line x1="229.8" y1="319.25" x2="229.8" y2="322.45" stroke="#1c1c1c" stroke-width="1.1" />
<text x="208.75" y="188.6" font-size="10" text-anchor="middle" font-weight="bold" font-style="normal" fill="#111" textLength="25.5" lengthAdjust="spacingAndGlyphs" >Blood</text>
<text transform="translate(136.5,265.85) rotate(-90)" font-size="8.4" text-anchor="middle" fill="#1a1a1a" textLength="60" lengthAdjust="spacingAndGlyphs" stroke="#1a1a1a" stroke-width="0.22">CFUs/mL of blood</text>
<line x1="188" y1="205.25" x2="230" y2="205.25" stroke="#2a2a2a" stroke-width="1.1" />
<text x="209.0" y="204.95" font-size="7.6" text-anchor="middle" font-weight="normal" font-style="normal" fill="#222" letter-spacing="0.6" stroke="#222" stroke-width="0.22">****</text>
<line x1="188" y1="224.5" x2="206.75" y2="224.5" stroke="#2a2a2a" stroke-width="1.1" />
<text x="197.375" y="222.9" font-size="7.2" text-anchor="middle" font-weight="normal" font-style="normal" fill="#222"  stroke="#222" stroke-width="0.22">ns</text>
<line x1="211.25" y1="224.5" x2="230" y2="224.5" stroke="#2a2a2a" stroke-width="1.1" />
<text x="220.625" y="224.2" font-size="7.6" text-anchor="middle" font-weight="normal" font-style="normal" fill="#222" letter-spacing="0.6" stroke="#222" stroke-width="0.22">****</text>
<circle cx="225.75" cy="237" r="2.7" fill="#5a1a6e"/>
<circle cx="234.5" cy="242" r="2.7" fill="#5a1a6e"/>
<circle cx="230" cy="250.75" r="2.7" fill="#5a1a6e"/>
<circle cx="230" cy="271.25" r="2.7" fill="#5a1a6e"/>
<circle cx="230" cy="297" r="2.7" fill="#5a1a6e"/>
<circle cx="183.5" cy="317.8" r="2.7" fill="#c8102e"/>
<circle cx="186.5" cy="317.3" r="2.7" fill="#c8102e"/>
<circle cx="189.5" cy="317.8" r="2.7" fill="#c8102e"/>
<circle cx="192.5" cy="318.2" r="2.7" fill="#c8102e"/>
<circle cx="185" cy="318.5" r="2.7" fill="#c8102e"/>
<circle cx="191" cy="318.6" r="2.7" fill="#c8102e"/>
<circle cx="204.8" cy="311.9" r="2.7" fill="#0b4f8c"/>
<circle cx="210.7" cy="311.9" r="2.7" fill="#0b4f8c"/>
<circle cx="204.8" cy="317.8" r="2.7" fill="#0b4f8c"/>
<circle cx="209.9" cy="318.2" r="2.7" fill="#0b4f8c"/>
<circle cx="213.7" cy="317.4" r="2.7" fill="#0b4f8c"/>
<line x1="180.8" y1="318" x2="194.8" y2="318" stroke="#333" stroke-width="1.4" />
<line x1="201.8" y1="315.5" x2="215.8" y2="315.5" stroke="#333" stroke-width="1.4" />
<line x1="223.1" y1="259.5" x2="237.1" y2="259.5" stroke="#333" stroke-width="1.4" />
<g transform="translate(169.20,353.8) rotate(-45)"><text x="0.00" y="0" font-size="8.9" font-style="normal" fill="#1a1a1a" textLength="13.8" lengthAdjust="spacingAndGlyphs" stroke="#1a1a1a" stroke-width="0.22">Fga</text><text x="14.00" y="-3.0" font-size="6.9" font-style="normal" fill="#1a1a1a" textLength="19" lengthAdjust="spacingAndGlyphs" stroke="#1a1a1a" stroke-width="0.22">WT/WT</text></g>
<g transform="translate(189.10,354) rotate(-45)"><text x="0.00" y="0" font-size="8.9" font-style="normal" fill="#1a1a1a" textLength="13.8" lengthAdjust="spacingAndGlyphs" stroke="#1a1a1a" stroke-width="0.22">Fga</text><text x="14.00" y="-3.0" font-size="6.9" font-style="normal" fill="#1a1a1a" textLength="20.5" lengthAdjust="spacingAndGlyphs" stroke="#1a1a1a" stroke-width="0.22">270/270</text></g>
<g transform="translate(220.40,343.6) rotate(-45)"><text x="0.00" y="0" font-size="8.9" font-style="normal" fill="#1a1a1a" textLength="13.8" lengthAdjust="spacingAndGlyphs" stroke="#1a1a1a" stroke-width="0.22">Fga</text><text x="14.00" y="-3.0" font-size="6.9" font-style="normal" fill="#1a1a1a" textLength="7" lengthAdjust="spacingAndGlyphs" stroke="#1a1a1a" stroke-width="0.22">&#8211;/&#8211;</text></g>
<line x1="309.9" y1="209.25" x2="309.9" y2="319.85" stroke="#1c1c1c" stroke-width="1.35" />
<line x1="309.2" y1="319.25" x2="380.2" y2="319.25" stroke="#1c1c1c" stroke-width="1.35" />
<line x1="306.7" y1="213.25" x2="309.7" y2="213.25" stroke="#1c1c1c" stroke-width="1.2" />
<text x="303.8" y="215.75" font-size="8.4" text-anchor="end" fill="#1a1a1a" textLength="29.61" lengthAdjust="spacingAndGlyphs" stroke="#1a1a1a" stroke-width="0.22">1000000</text>
<line x1="306.7" y1="234.45" x2="309.7" y2="234.45" stroke="#1c1c1c" stroke-width="1.2" />
<text x="303.8" y="236.95" font-size="8.4" text-anchor="end" fill="#1a1a1a" textLength="25.38" lengthAdjust="spacingAndGlyphs" stroke="#1a1a1a" stroke-width="0.22">800000</text>
<line x1="306.7" y1="255.65" x2="309.7" y2="255.65" stroke="#1c1c1c" stroke-width="1.2" />
<text x="303.8" y="258.15" font-size="8.4" text-anchor="end" fill="#1a1a1a" textLength="25.38" lengthAdjust="spacingAndGlyphs" stroke="#1a1a1a" stroke-width="0.22">600000</text>
<line x1="306.7" y1="276.85" x2="309.7" y2="276.85" stroke="#1c1c1c" stroke-width="1.2" />
<text x="303.8" y="279.35" font-size="8.4" text-anchor="end" fill="#1a1a1a" textLength="25.38" lengthAdjust="spacingAndGlyphs" stroke="#1a1a1a" stroke-width="0.22">400000</text>
<line x1="306.7" y1="298.05" x2="309.7" y2="298.05" stroke="#1c1c1c" stroke-width="1.2" />
<text x="303.8" y="300.55" font-size="8.4" text-anchor="end" fill="#1a1a1a" textLength="25.38" lengthAdjust="spacingAndGlyphs" stroke="#1a1a1a" stroke-width="0.22">200000</text>
<line x1="306.7" y1="319.25" x2="309.7" y2="319.25" stroke="#1c1c1c" stroke-width="1.2" />
<text x="303.8" y="321.75" font-size="8.4" text-anchor="end" fill="#1a1a1a" textLength="4.23" lengthAdjust="spacingAndGlyphs" stroke="#1a1a1a" stroke-width="0.22">0</text>
<line x1="324.0" y1="319.25" x2="324.0" y2="322.45" stroke="#1c1c1c" stroke-width="1.1" />
<line x1="345.09999999999997" y1="319.25" x2="345.09999999999997" y2="322.45" stroke="#1c1c1c" stroke-width="1.1" />
<line x1="366.2" y1="319.25" x2="366.2" y2="322.45" stroke="#1c1c1c" stroke-width="1.1" />
<text x="345" y="188.6" font-size="10" text-anchor="middle" font-weight="bold" font-style="normal" fill="#111" textLength="20.9" lengthAdjust="spacingAndGlyphs" >Lung</text>
<text transform="translate(272.4,266.3) rotate(-90)" font-size="8.4" text-anchor="middle" fill="#1a1a1a" textLength="41" lengthAdjust="spacingAndGlyphs" stroke="#1a1a1a" stroke-width="0.22">CFU in lung</text>
<line x1="324.25" y1="204.5" x2="366.75" y2="204.5" stroke="#2a2a2a" stroke-width="1.1" />
<text x="345.5" y="204.2" font-size="7.6" text-anchor="middle" font-weight="normal" font-style="normal" fill="#222" letter-spacing="0.6" stroke="#222" stroke-width="0.22">**</text>
<line x1="324.25" y1="215.5" x2="343" y2="215.5" stroke="#2a2a2a" stroke-width="1.1" />
<text x="333.625" y="213.9" font-size="7.2" text-anchor="middle" font-weight="normal" font-style="normal" fill="#222"  stroke="#222" stroke-width="0.22">ns</text>
<line x1="347.5" y1="215.5" x2="366.75" y2="215.5" stroke="#2a2a2a" stroke-width="1.1" />
<text x="357.125" y="215.2" font-size="7.6" text-anchor="middle" font-weight="normal" font-style="normal" fill="#222" letter-spacing="0.6" stroke="#222" stroke-width="0.22">*</text>
<circle cx="366.5" cy="257.5" r="2.7" fill="#5a1a6e"/>
<circle cx="366.5" cy="264.5" r="2.7" fill="#5a1a6e"/>
<circle cx="366.5" cy="270.75" r="2.7" fill="#5a1a6e"/>
<circle cx="366.5" cy="286.75" r="2.7" fill="#5a1a6e"/>
<circle cx="366.5" cy="307.25" r="2.7" fill="#5a1a6e"/>
<circle cx="345" cy="265.9" r="2.7" fill="#0b4f8c"/>
<circle cx="350" cy="307.5" r="2.7" fill="#0b4f8c"/>
<circle cx="341.25" cy="312" r="2.7" fill="#0b4f8c"/>
<circle cx="345.5" cy="315.5" r="2.7" fill="#0b4f8c"/>
<circle cx="341.25" cy="318.6" r="2.7" fill="#0b4f8c"/>
<circle cx="350" cy="317.5" r="2.7" fill="#0b4f8c"/>
<circle cx="321.2" cy="314.4" r="2.7" fill="#c8102e"/>
<circle cx="324.9" cy="314.6" r="2.7" fill="#c8102e"/>
<circle cx="328.6" cy="315.3" r="2.7" fill="#c8102e"/>
<circle cx="318.9" cy="317.6" r="2.7" fill="#c8102e"/>
<circle cx="323" cy="318" r="2.7" fill="#c8102e"/>
<circle cx="326.8" cy="317.6" r="2.7" fill="#c8102e"/>
<circle cx="330" cy="317.2" r="2.7" fill="#c8102e"/>
<line x1="317.3" y1="316.6" x2="331.3" y2="316.6" stroke="#333" stroke-width="1.4" />
<line x1="338.4" y1="306.3" x2="352.4" y2="306.3" stroke="#333" stroke-width="1.4" />
<line x1="359.6" y1="277.3" x2="373.6" y2="277.3" stroke="#333" stroke-width="1.4" />
<g transform="translate(305.60,353.8) rotate(-45)"><text x="0.00" y="0" font-size="8.9" font-style="normal" fill="#1a1a1a" textLength="13.8" lengthAdjust="spacingAndGlyphs" stroke="#1a1a1a" stroke-width="0.22">Fga</text><text x="14.00" y="-3.0" font-size="6.9" font-style="normal" fill="#1a1a1a" textLength="19" lengthAdjust="spacingAndGlyphs" stroke="#1a1a1a" stroke-width="0.22">WT/WT</text></g>
<g transform="translate(325.50,354) rotate(-45)"><text x="0.00" y="0" font-size="8.9" font-style="normal" fill="#1a1a1a" textLength="13.8" lengthAdjust="spacingAndGlyphs" stroke="#1a1a1a" stroke-width="0.22">Fga</text><text x="14.00" y="-3.0" font-size="6.9" font-style="normal" fill="#1a1a1a" textLength="20.5" lengthAdjust="spacingAndGlyphs" stroke="#1a1a1a" stroke-width="0.22">270/270</text></g>
<g transform="translate(356.80,343.6) rotate(-45)"><text x="0.00" y="0" font-size="8.9" font-style="normal" fill="#1a1a1a" textLength="13.8" lengthAdjust="spacingAndGlyphs" stroke="#1a1a1a" stroke-width="0.22">Fga</text><text x="14.00" y="-3.0" font-size="6.9" font-style="normal" fill="#1a1a1a" textLength="7" lengthAdjust="spacingAndGlyphs" stroke="#1a1a1a" stroke-width="0.22">&#8211;/&#8211;</text></g>
<line x1="442.09999999999997" y1="209.25" x2="442.09999999999997" y2="319.85" stroke="#1c1c1c" stroke-width="1.35" />
<line x1="441.4" y1="319.25" x2="512.4" y2="319.25" stroke="#1c1c1c" stroke-width="1.35" />
<line x1="438.9" y1="213.05" x2="441.9" y2="213.05" stroke="#1c1c1c" stroke-width="1.2" />
<text x="436.0" y="215.55" font-size="8.4" text-anchor="end" fill="#1a1a1a" textLength="25.38" lengthAdjust="spacingAndGlyphs" stroke="#1a1a1a" stroke-width="0.22">600000</text>
<line x1="438.9" y1="248.45" x2="441.9" y2="248.45" stroke="#1c1c1c" stroke-width="1.2" />
<text x="436.0" y="250.95" font-size="8.4" text-anchor="end" fill="#1a1a1a" textLength="25.38" lengthAdjust="spacingAndGlyphs" stroke="#1a1a1a" stroke-width="0.22">400000</text>
<line x1="438.9" y1="283.85" x2="441.9" y2="283.85" stroke="#1c1c1c" stroke-width="1.2" />
<text x="436.0" y="286.35" font-size="8.4" text-anchor="end" fill="#1a1a1a" textLength="25.38" lengthAdjust="spacingAndGlyphs" stroke="#1a1a1a" stroke-width="0.22">200000</text>
<line x1="438.9" y1="319.25" x2="441.9" y2="319.25" stroke="#1c1c1c" stroke-width="1.2" />
<text x="436.0" y="321.75" font-size="8.4" text-anchor="end" fill="#1a1a1a" textLength="4.23" lengthAdjust="spacingAndGlyphs" stroke="#1a1a1a" stroke-width="0.22">0</text>
<line x1="456.2" y1="319.25" x2="456.2" y2="322.45" stroke="#1c1c1c" stroke-width="1.1" />
<line x1="477.29999999999995" y1="319.25" x2="477.29999999999995" y2="322.45" stroke="#1c1c1c" stroke-width="1.1" />
<line x1="498.4" y1="319.25" x2="498.4" y2="322.45" stroke="#1c1c1c" stroke-width="1.1" />
<text x="476.4" y="188.6" font-size="10" text-anchor="middle" font-weight="bold" font-style="normal" fill="#111" textLength="24.2" lengthAdjust="spacingAndGlyphs" >Heart</text>
<text transform="translate(404.3,263.85) rotate(-90)" font-size="8.4" text-anchor="middle" fill="#1a1a1a" textLength="42.3" lengthAdjust="spacingAndGlyphs" stroke="#1a1a1a" stroke-width="0.22">CFU in heart</text>
<line x1="456.2" y1="199.3" x2="498" y2="199.3" stroke="#2a2a2a" stroke-width="1.1" />
<text x="477.1" y="197.70000000000002" font-size="7.2" text-anchor="middle" font-weight="normal" font-style="normal" fill="#222"  stroke="#222" stroke-width="0.22">ns</text>
<line x1="456.2" y1="218.6" x2="474.8" y2="218.6" stroke="#2a2a2a" stroke-width="1.1" />
<text x="465.5" y="217.0" font-size="7.2" text-anchor="middle" font-weight="normal" font-style="normal" fill="#222"  stroke="#222" stroke-width="0.22">ns</text>
<line x1="479.6" y1="218.6" x2="498.5" y2="218.6" stroke="#2a2a2a" stroke-width="1.1" />
<text x="489.05" y="217.0" font-size="7.2" text-anchor="middle" font-weight="normal" font-style="normal" fill="#222"  stroke="#222" stroke-width="0.22">ns</text>
<circle cx="456.2" cy="277.3" r="2.7" fill="#c8102e"/>
<circle cx="456.2" cy="301.2" r="2.7" fill="#c8102e"/>
<circle cx="450.6" cy="319" r="2.7" fill="#c8102e"/>
<circle cx="453.2" cy="319.2" r="2.7" fill="#c8102e"/>
<circle cx="455.4" cy="316.4" r="2.7" fill="#c8102e"/>
<circle cx="459" cy="318.4" r="2.7" fill="#c8102e"/>
<circle cx="461.8" cy="318.8" r="2.7" fill="#c8102e"/>
<circle cx="477" cy="250.5" r="2.7" fill="#0b4f8c"/>
<circle cx="471.6" cy="318.8" r="2.7" fill="#0b4f8c"/>
<circle cx="474.5" cy="316.4" r="2.7" fill="#0b4f8c"/>
<circle cx="477.8" cy="318" r="2.7" fill="#0b4f8c"/>
<circle cx="481" cy="318.4" r="2.7" fill="#0b4f8c"/>
<circle cx="483.3" cy="318.9" r="2.7" fill="#0b4f8c"/>
<circle cx="498.5" cy="251.5" r="2.7" fill="#5a1a6e"/>
<circle cx="494.4" cy="295.8" r="2.7" fill="#5a1a6e"/>
<circle cx="503" cy="293.4" r="2.7" fill="#5a1a6e"/>
<circle cx="494.4" cy="316.5" r="2.7" fill="#5a1a6e"/>
<circle cx="503" cy="315.7" r="2.7" fill="#5a1a6e"/>
<line x1="449.3" y1="308.9" x2="463.3" y2="308.9" stroke="#333" stroke-width="1.4" />
<line x1="470.3" y1="307.1" x2="484.3" y2="307.1" stroke="#333" stroke-width="1.4" />
<line x1="491.8" y1="294.5" x2="505.8" y2="294.5" stroke="#333" stroke-width="1.4" />
<g transform="translate(437.80,353.8) rotate(-45)"><text x="0.00" y="0" font-size="8.9" font-style="normal" fill="#1a1a1a" textLength="13.8" lengthAdjust="spacingAndGlyphs" stroke="#1a1a1a" stroke-width="0.22">Fga</text><text x="14.00" y="-3.0" font-size="6.9" font-style="normal" fill="#1a1a1a" textLength="19" lengthAdjust="spacingAndGlyphs" stroke="#1a1a1a" stroke-width="0.22">WT/WT</text></g>
<g transform="translate(457.70,354) rotate(-45)"><text x="0.00" y="0" font-size="8.9" font-style="normal" fill="#1a1a1a" textLength="13.8" lengthAdjust="spacingAndGlyphs" stroke="#1a1a1a" stroke-width="0.22">Fga</text><text x="14.00" y="-3.0" font-size="6.9" font-style="normal" fill="#1a1a1a" textLength="20.5" lengthAdjust="spacingAndGlyphs" stroke="#1a1a1a" stroke-width="0.22">270/270</text></g>
<g transform="translate(489.00,343.6) rotate(-45)"><text x="0.00" y="0" font-size="8.9" font-style="normal" fill="#1a1a1a" textLength="13.8" lengthAdjust="spacingAndGlyphs" stroke="#1a1a1a" stroke-width="0.22">Fga</text><text x="14.00" y="-3.0" font-size="6.9" font-style="normal" fill="#1a1a1a" textLength="7" lengthAdjust="spacingAndGlyphs" stroke="#1a1a1a" stroke-width="0.22">&#8211;/&#8211;</text></g>
<line x1="40.2" y1="426" x2="40.2" y2="536.7" stroke="#1c1c1c" stroke-width="1.35" />
<line x1="39.5" y1="536.1" x2="110.5" y2="536.1" stroke="#1c1c1c" stroke-width="1.35" />
<line x1="37" y1="430.0" x2="40" y2="430.0" stroke="#1c1c1c" stroke-width="1.2" />
<text x="22.8" y="433.0" font-size="8.4" fill="#1a1a1a" textLength="7.6" lengthAdjust="spacingAndGlyphs" stroke="#1a1a1a" stroke-width="0.22">10</text><text x="30.8" y="430.2" font-size="5.4" fill="#1a1a1a" stroke="#1a1a1a" stroke-width="0.22">9</text>
<line x1="37" y1="451.22" x2="40" y2="451.22" stroke="#1c1c1c" stroke-width="1.2" />
<text x="22.8" y="454.22" font-size="8.4" fill="#1a1a1a" textLength="7.6" lengthAdjust="spacingAndGlyphs" stroke="#1a1a1a" stroke-width="0.22">10</text><text x="30.8" y="451.42" font-size="5.4" fill="#1a1a1a" stroke="#1a1a1a" stroke-width="0.22">8</text>
<line x1="37" y1="472.44000000000005" x2="40" y2="472.44000000000005" stroke="#1c1c1c" stroke-width="1.2" />
<text x="22.8" y="475.44000000000005" font-size="8.4" fill="#1a1a1a" textLength="7.6" lengthAdjust="spacingAndGlyphs" stroke="#1a1a1a" stroke-width="0.22">10</text><text x="30.8" y="472.64000000000004" font-size="5.4" fill="#1a1a1a" stroke="#1a1a1a" stroke-width="0.22">7</text>
<line x1="37" y1="493.66" x2="40" y2="493.66" stroke="#1c1c1c" stroke-width="1.2" />
<text x="22.8" y="496.66" font-size="8.4" fill="#1a1a1a" textLength="7.6" lengthAdjust="spacingAndGlyphs" stroke="#1a1a1a" stroke-width="0.22">10</text><text x="30.8" y="493.86" font-size="5.4" fill="#1a1a1a" stroke="#1a1a1a" stroke-width="0.22">6</text>
<line x1="37" y1="514.88" x2="40" y2="514.88" stroke="#1c1c1c" stroke-width="1.2" />
<text x="22.8" y="517.88" font-size="8.4" fill="#1a1a1a" textLength="7.6" lengthAdjust="spacingAndGlyphs" stroke="#1a1a1a" stroke-width="0.22">10</text><text x="30.8" y="515.08" font-size="5.4" fill="#1a1a1a" stroke="#1a1a1a" stroke-width="0.22">5</text>
<line x1="37" y1="536.1" x2="40" y2="536.1" stroke="#1c1c1c" stroke-width="1.2" />
<text x="22.8" y="539.1" font-size="8.4" fill="#1a1a1a" textLength="7.6" lengthAdjust="spacingAndGlyphs" stroke="#1a1a1a" stroke-width="0.22">10</text><text x="30.8" y="536.3000000000001" font-size="5.4" fill="#1a1a1a" stroke="#1a1a1a" stroke-width="0.22">4</text>
<line x1="54.3" y1="536.1" x2="54.3" y2="539.3000000000001" stroke="#1c1c1c" stroke-width="1.1" />
<line x1="75.4" y1="536.1" x2="75.4" y2="539.3000000000001" stroke="#1c1c1c" stroke-width="1.1" />
<line x1="96.5" y1="536.1" x2="96.5" y2="539.3000000000001" stroke="#1c1c1c" stroke-width="1.1" />
<text x="78.1" y="397.9" font-size="10" text-anchor="middle" font-weight="bold" font-style="normal" fill="#111" textLength="52.8" lengthAdjust="spacingAndGlyphs" >Lavage fluid</text>
<text transform="translate(14.0,480.8) rotate(-90)" font-size="8.4" text-anchor="middle" fill="#1a1a1a" textLength="67.6" lengthAdjust="spacingAndGlyphs" stroke="#1a1a1a" stroke-width="0.22">CFUs in lavage fluid</text>
<line x1="41.5" y1="433" x2="110" y2="433" stroke="#222" stroke-width="1" stroke-dasharray="1.2,1.3"/>
<line x1="54" y1="412.5" x2="96.25" y2="412.5" stroke="#2a2a2a" stroke-width="1.1" />
<text x="75.125" y="410.9" font-size="7.2" text-anchor="middle" font-weight="normal" font-style="normal" fill="#222"  stroke="#222" stroke-width="0.22">ns</text>
<line x1="54" y1="427.5" x2="72.75" y2="427.5" stroke="#2a2a2a" stroke-width="1.1" />
<text x="63.375" y="425.9" font-size="7.2" text-anchor="middle" font-weight="normal" font-style="normal" fill="#222"  stroke="#222" stroke-width="0.22">ns</text>
<line x1="77.75" y1="427.5" x2="96.25" y2="427.5" stroke="#2a2a2a" stroke-width="1.1" />
<text x="87.0" y="425.9" font-size="7.2" text-anchor="middle" font-weight="normal" font-style="normal" fill="#222"  stroke="#222" stroke-width="0.22">ns</text>
<circle cx="54" cy="458.25" r="2.7" fill="#fb8c0c"/>
<circle cx="52.5" cy="477.5" r="2.7" fill="#fb8c0c"/>
<circle cx="58.75" cy="478.25" r="2.7" fill="#fb8c0c"/>
<circle cx="50" cy="482" r="2.7" fill="#fb8c0c"/>
<circle cx="55" cy="481.25" r="2.7" fill="#fb8c0c"/>
<circle cx="80" cy="463.25" r="2.7" fill="#0a6a4e"/>
<circle cx="70.75" cy="468" r="2.7" fill="#0a6a4e"/>
<circle cx="75" cy="469.25" r="2.7" fill="#0a6a4e"/>
<circle cx="80" cy="470.5" r="2.7" fill="#0a6a4e"/>
<circle cx="70.75" cy="474.5" r="2.7" fill="#0a6a4e"/>
<circle cx="92.5" cy="471.75" r="2.7" fill="#8c85c8"/>
<circle cx="100.75" cy="470.5" r="2.7" fill="#8c85c8"/>
<circle cx="92.5" cy="480.75" r="2.7" fill="#8c85c8"/>
<circle cx="100.75" cy="480" r="2.7" fill="#8c85c8"/>
<line x1="47.1" y1="479.5" x2="61.1" y2="479.5" stroke="#333" stroke-width="1.4" />
<line x1="68.2" y1="468.75" x2="82.2" y2="468.75" stroke="#333" stroke-width="1.4" />
<line x1="89.6" y1="475" x2="103.6" y2="475" stroke="#3c3c3c" stroke-width="1.4" />
<text transform="translate(57.90,544.9) rotate(-45)" font-size="8.6" text-anchor="end" fill="#1a1a1a" textLength="19.6" lengthAdjust="spacingAndGlyphs" stroke="#1a1a1a" stroke-width="0.22">siLUC</text>
<text transform="translate(79.00,544.9) rotate(-45)" font-size="8.6" text-anchor="end" fill="#1a1a1a" textLength="18.6" lengthAdjust="spacingAndGlyphs" stroke="#1a1a1a" stroke-width="0.22">siFga</text>
<text transform="translate(100.10,544.9) rotate(-45)" font-size="8.6" text-anchor="end" fill="#1a1a1a" textLength="37.5" lengthAdjust="spacingAndGlyphs" stroke="#1a1a1a" stroke-width="0.22">Uninjected</text>
<line x1="173.5" y1="426" x2="173.5" y2="536.7" stroke="#1c1c1c" stroke-width="1.35" />
<line x1="172.8" y1="536.1" x2="243.8" y2="536.1" stroke="#1c1c1c" stroke-width="1.35" />
<line x1="170.3" y1="430.1" x2="173.3" y2="430.1" stroke="#1c1c1c" stroke-width="1.2" />
<text x="167.4" y="432.6" font-size="8.4" text-anchor="end" fill="#1a1a1a" textLength="25.38" lengthAdjust="spacingAndGlyphs" stroke="#1a1a1a" stroke-width="0.22">400000</text>
<line x1="170.3" y1="456.6" x2="173.3" y2="456.6" stroke="#1c1c1c" stroke-width="1.2" />
<text x="167.4" y="459.1" font-size="8.4" text-anchor="end" fill="#1a1a1a" textLength="25.38" lengthAdjust="spacingAndGlyphs" stroke="#1a1a1a" stroke-width="0.22">300000</text>
<line x1="170.3" y1="483.1" x2="173.3" y2="483.1" stroke="#1c1c1c" stroke-width="1.2" />
<text x="167.4" y="485.6" font-size="8.4" text-anchor="end" fill="#1a1a1a" textLength="25.38" lengthAdjust="spacingAndGlyphs" stroke="#1a1a1a" stroke-width="0.22">200000</text>
<line x1="170.3" y1="509.6" x2="173.3" y2="509.6" stroke="#1c1c1c" stroke-width="1.2" />
<text x="167.4" y="512.1" font-size="8.4" text-anchor="end" fill="#1a1a1a" textLength="25.38" lengthAdjust="spacingAndGlyphs" stroke="#1a1a1a" stroke-width="0.22">100000</text>
<line x1="170.3" y1="536.1" x2="173.3" y2="536.1" stroke="#1c1c1c" stroke-width="1.2" />
<text x="167.4" y="538.6" font-size="8.4" text-anchor="end" fill="#1a1a1a" textLength="4.23" lengthAdjust="spacingAndGlyphs" stroke="#1a1a1a" stroke-width="0.22">0</text>
<line x1="187.60000000000002" y1="536.1" x2="187.60000000000002" y2="539.3000000000001" stroke="#1c1c1c" stroke-width="1.1" />
<line x1="208.70000000000002" y1="536.1" x2="208.70000000000002" y2="539.3000000000001" stroke="#1c1c1c" stroke-width="1.1" />
<line x1="229.8" y1="536.1" x2="229.8" y2="539.3000000000001" stroke="#1c1c1c" stroke-width="1.1" />
<text x="208.75" y="397.9" font-size="10" text-anchor="middle" font-weight="bold" font-style="normal" fill="#111" textLength="25.5" lengthAdjust="spacingAndGlyphs" >Blood</text>
<text transform="translate(136.0,481.1) rotate(-90)" font-size="8.4" text-anchor="middle" fill="#1a1a1a" textLength="62.8" lengthAdjust="spacingAndGlyphs" stroke="#1a1a1a" stroke-width="0.22">CFU's/mL of blood</text>
<line x1="188" y1="421.25" x2="230" y2="421.25" stroke="#2a2a2a" stroke-width="1.1" />
<text x="209.0" y="419.65" font-size="7.2" text-anchor="middle" font-weight="normal" font-style="normal" fill="#222"  stroke="#222" stroke-width="0.22">ns</text>
<line x1="188" y1="437.25" x2="206.75" y2="437.25" stroke="#2a2a2a" stroke-width="1.1" />
<text x="197.375" y="435.65" font-size="7.2" text-anchor="middle" font-weight="normal" font-style="normal" fill="#222"  stroke="#222" stroke-width="0.22">ns</text>
<line x1="211.25" y1="437.25" x2="230" y2="437.25" stroke="#2a2a2a" stroke-width="1.1" />
<text x="220.625" y="436.95" font-size="7.6" text-anchor="middle" font-weight="normal" font-style="normal" fill="#222" letter-spacing="0.6" stroke="#222" stroke-width="0.22">*</text>
<circle cx="182.5" cy="534.3" r="2.7" fill="#fb8c0c"/>
<circle cx="185.5" cy="531.2" r="2.7" fill="#fb8c0c"/>
<circle cx="188.5" cy="532.8" r="2.7" fill="#fb8c0c"/>
<circle cx="191.5" cy="534" r="2.7" fill="#fb8c0c"/>
<circle cx="184" cy="535.3" r="2.7" fill="#fb8c0c"/>
<circle cx="190" cy="535.3" r="2.7" fill="#fb8c0c"/>
<circle cx="193" cy="534.6" r="2.7" fill="#fb8c0c"/>
<circle cx="208.75" cy="521.25" r="2.7" fill="#0a6a4e"/>
<circle cx="204.5" cy="527" r="2.7" fill="#0a6a4e"/>
<circle cx="208.75" cy="530" r="2.7" fill="#0a6a4e"/>
<circle cx="213.75" cy="530" r="2.7" fill="#0a6a4e"/>
<circle cx="204.5" cy="534.5" r="2.7" fill="#0a6a4e"/>
<circle cx="225" cy="535.5" r="2.7" fill="#8c85c8"/>
<circle cx="228" cy="535" r="2.7" fill="#8c85c8"/>
<circle cx="231" cy="535.3" r="2.7" fill="#8c85c8"/>
<circle cx="234.5" cy="535.5" r="2.7" fill="#8c85c8"/>
<circle cx="229" cy="536" r="2.7" fill="#8c85c8"/>
<line x1="180.8" y1="534.25" x2="194.8" y2="534.25" stroke="#333" stroke-width="1.4" />
<line x1="202" y1="530" x2="216" y2="530" stroke="#333" stroke-width="1.4" />
<line x1="223.1" y1="535.6" x2="237.1" y2="535.6" stroke="#3c3c3c" stroke-width="1.4" />
<text transform="translate(191.20,544.9) rotate(-45)" font-size="8.6" text-anchor="end" fill="#1a1a1a" textLength="19.6" lengthAdjust="spacingAndGlyphs" stroke="#1a1a1a" stroke-width="0.22">siLUC</text>
<text transform="translate(212.30,544.9) rotate(-45)" font-size="8.6" text-anchor="end" fill="#1a1a1a" textLength="18.6" lengthAdjust="spacingAndGlyphs" stroke="#1a1a1a" stroke-width="0.22">siFga</text>
<text transform="translate(233.40,544.9) rotate(-45)" font-size="8.6" text-anchor="end" fill="#1a1a1a" textLength="37.5" lengthAdjust="spacingAndGlyphs" stroke="#1a1a1a" stroke-width="0.22">Uninjected</text>
<line x1="309.9" y1="426" x2="309.9" y2="536.7" stroke="#1c1c1c" stroke-width="1.35" />
<line x1="309.2" y1="536.1" x2="380.2" y2="536.1" stroke="#1c1c1c" stroke-width="1.35" />
<line x1="306.7" y1="430.1" x2="309.7" y2="430.1" stroke="#1c1c1c" stroke-width="1.2" />
<text x="303.8" y="432.6" font-size="8.4" text-anchor="end" fill="#1a1a1a" textLength="29.61" lengthAdjust="spacingAndGlyphs" stroke="#1a1a1a" stroke-width="0.22">1000000</text>
<line x1="306.7" y1="451.3" x2="309.7" y2="451.3" stroke="#1c1c1c" stroke-width="1.2" />
<text x="303.8" y="453.8" font-size="8.4" text-anchor="end" fill="#1a1a1a" textLength="25.38" lengthAdjust="spacingAndGlyphs" stroke="#1a1a1a" stroke-width="0.22">800000</text>
<line x1="306.7" y1="472.5" x2="309.7" y2="472.5" stroke="#1c1c1c" stroke-width="1.2" />
<text x="303.8" y="475.0" font-size="8.4" text-anchor="end" fill="#1a1a1a" textLength="25.38" lengthAdjust="spacingAndGlyphs" stroke="#1a1a1a" stroke-width="0.22">600000</text>
<line x1="306.7" y1="493.70000000000005" x2="309.7" y2="493.70000000000005" stroke="#1c1c1c" stroke-width="1.2" />
<text x="303.8" y="496.20000000000005" font-size="8.4" text-anchor="end" fill="#1a1a1a" textLength="25.38" lengthAdjust="spacingAndGlyphs" stroke="#1a1a1a" stroke-width="0.22">400000</text>
<line x1="306.7" y1="514.9" x2="309.7" y2="514.9" stroke="#1c1c1c" stroke-width="1.2" />
<text x="303.8" y="517.4" font-size="8.4" text-anchor="end" fill="#1a1a1a" textLength="25.38" lengthAdjust="spacingAndGlyphs" stroke="#1a1a1a" stroke-width="0.22">200000</text>
<line x1="306.7" y1="536.1" x2="309.7" y2="536.1" stroke="#1c1c1c" stroke-width="1.2" />
<text x="303.8" y="538.6" font-size="8.4" text-anchor="end" fill="#1a1a1a" textLength="4.23" lengthAdjust="spacingAndGlyphs" stroke="#1a1a1a" stroke-width="0.22">0</text>
<line x1="324.0" y1="536.1" x2="324.0" y2="539.3000000000001" stroke="#1c1c1c" stroke-width="1.1" />
<line x1="345.09999999999997" y1="536.1" x2="345.09999999999997" y2="539.3000000000001" stroke="#1c1c1c" stroke-width="1.1" />
<line x1="366.2" y1="536.1" x2="366.2" y2="539.3000000000001" stroke="#1c1c1c" stroke-width="1.1" />
<text x="345" y="397.9" font-size="10" text-anchor="middle" font-weight="bold" font-style="normal" fill="#111" textLength="20.9" lengthAdjust="spacingAndGlyphs" >Lung</text>
<text transform="translate(267.9,480.6) rotate(-90)" font-size="8.4" text-anchor="middle" fill="#1a1a1a" textLength="40.4" lengthAdjust="spacingAndGlyphs" stroke="#1a1a1a" stroke-width="0.22">CFU in lung</text>
<line x1="324.25" y1="426.5" x2="366.25" y2="426.5" stroke="#2a2a2a" stroke-width="1.1" />
<text x="345.25" y="424.9" font-size="7.2" text-anchor="middle" font-weight="normal" font-style="normal" fill="#222"  stroke="#222" stroke-width="0.22">ns</text>
<line x1="324.25" y1="437.5" x2="343" y2="437.5" stroke="#2a2a2a" stroke-width="1.1" />
<text x="333.625" y="435.9" font-size="7.2" text-anchor="middle" font-weight="normal" font-style="normal" fill="#222"  stroke="#222" stroke-width="0.22">ns</text>
<line x1="347.5" y1="437.5" x2="366.25" y2="437.5" stroke="#2a2a2a" stroke-width="1.1" />
<text x="356.875" y="435.9" font-size="7.2" text-anchor="middle" font-weight="normal" font-style="normal" fill="#222"  stroke="#222" stroke-width="0.22">ns</text>
<circle cx="324" cy="502.5" r="2.7" fill="#fb8c0c"/>
<circle cx="324" cy="516.75" r="2.7" fill="#fb8c0c"/>
<circle cx="324" cy="526.25" r="2.7" fill="#fb8c0c"/>
<circle cx="320" cy="535.5" r="2.7" fill="#fb8c0c"/>
<circle cx="328.75" cy="534.25" r="2.7" fill="#fb8c0c"/>
<circle cx="345" cy="449.5" r="2.7" fill="#0a6a4e"/>
<circle cx="345" cy="476.5" r="2.7" fill="#0a6a4e"/>
<circle cx="345" cy="485.5" r="2.7" fill="#0a6a4e"/>
<circle cx="345" cy="516.5" r="2.7" fill="#0a6a4e"/>
<circle cx="345" cy="530.5" r="2.7" fill="#0a6a4e"/>
<circle cx="366.5" cy="503.4" r="2.7" fill="#8c85c8"/>
<circle cx="362.8" cy="534" r="2.7" fill="#8c85c8"/>
<circle cx="366.5" cy="532.3" r="2.7" fill="#8c85c8"/>
<circle cx="370" cy="533.4" r="2.7" fill="#8c85c8"/>
<circle cx="372.3" cy="534.2" r="2.7" fill="#8c85c8"/>
<line x1="317.2" y1="526.3" x2="331.2" y2="526.3" stroke="#333" stroke-width="1.4" />
<line x1="338.2" y1="485.5" x2="352.2" y2="485.5" stroke="#333" stroke-width="1.4" />
<line x1="359.6" y1="533.9" x2="373.6" y2="533.9" stroke="#3c3c3c" stroke-width="1.4" />
<text transform="translate(327.60,544.9) rotate(-45)" font-size="8.6" text-anchor="end" fill="#1a1a1a" textLength="19.6" lengthAdjust="spacingAndGlyphs" stroke="#1a1a1a" stroke-width="0.22">siLUC</text>
<text transform="translate(348.70,544.9) rotate(-45)" font-size="8.6" text-anchor="end" fill="#1a1a1a" textLength="18.6" lengthAdjust="spacingAndGlyphs" stroke="#1a1a1a" stroke-width="0.22">siFga</text>
<text transform="translate(369.80,544.9) rotate(-45)" font-size="8.6" text-anchor="end" fill="#1a1a1a" textLength="37.5" lengthAdjust="spacingAndGlyphs" stroke="#1a1a1a" stroke-width="0.22">Uninjected</text>
<line x1="442.09999999999997" y1="426" x2="442.09999999999997" y2="536.7" stroke="#1c1c1c" stroke-width="1.35" />
<line x1="441.4" y1="536.1" x2="512.4" y2="536.1" stroke="#1c1c1c" stroke-width="1.35" />
<line x1="438.9" y1="430.02000000000004" x2="441.9" y2="430.02000000000004" stroke="#1c1c1c" stroke-width="1.2" />
<text x="436.0" y="432.52000000000004" font-size="8.4" text-anchor="end" fill="#1a1a1a" textLength="25.38" lengthAdjust="spacingAndGlyphs" stroke="#1a1a1a" stroke-width="0.22">600000</text>
<line x1="438.9" y1="447.70000000000005" x2="441.9" y2="447.70000000000005" stroke="#1c1c1c" stroke-width="1.2" />
<text x="436.0" y="450.20000000000005" font-size="8.4" text-anchor="end" fill="#1a1a1a" textLength="25.38" lengthAdjust="spacingAndGlyphs" stroke="#1a1a1a" stroke-width="0.22">500000</text>
<line x1="438.9" y1="465.38" x2="441.9" y2="465.38" stroke="#1c1c1c" stroke-width="1.2" />
<text x="436.0" y="467.88" font-size="8.4" text-anchor="end" fill="#1a1a1a" textLength="25.38" lengthAdjust="spacingAndGlyphs" stroke="#1a1a1a" stroke-width="0.22">400000</text>
<line x1="438.9" y1="483.06" x2="441.9" y2="483.06" stroke="#1c1c1c" stroke-width="1.2" />
<text x="436.0" y="485.56" font-size="8.4" text-anchor="end" fill="#1a1a1a" textLength="25.38" lengthAdjust="spacingAndGlyphs" stroke="#1a1a1a" stroke-width="0.22">300000</text>
<line x1="438.9" y1="500.74" x2="441.9" y2="500.74" stroke="#1c1c1c" stroke-width="1.2" />
<text x="436.0" y="503.24" font-size="8.4" text-anchor="end" fill="#1a1a1a" textLength="25.38" lengthAdjust="spacingAndGlyphs" stroke="#1a1a1a" stroke-width="0.22">200000</text>
<line x1="438.9" y1="518.4200000000001" x2="441.9" y2="518.4200000000001" stroke="#1c1c1c" stroke-width="1.2" />
<text x="436.0" y="520.9200000000001" font-size="8.4" text-anchor="end" fill="#1a1a1a" textLength="25.38" lengthAdjust="spacingAndGlyphs" stroke="#1a1a1a" stroke-width="0.22">100000</text>
<line x1="438.9" y1="536.1" x2="441.9" y2="536.1" stroke="#1c1c1c" stroke-width="1.2" />
<text x="436.0" y="538.6" font-size="8.4" text-anchor="end" fill="#1a1a1a" textLength="4.23" lengthAdjust="spacingAndGlyphs" stroke="#1a1a1a" stroke-width="0.22">0</text>
<line x1="456.2" y1="536.1" x2="456.2" y2="539.3000000000001" stroke="#1c1c1c" stroke-width="1.1" />
<line x1="477.29999999999995" y1="536.1" x2="477.29999999999995" y2="539.3000000000001" stroke="#1c1c1c" stroke-width="1.1" />
<line x1="498.4" y1="536.1" x2="498.4" y2="539.3000000000001" stroke="#1c1c1c" stroke-width="1.1" />
<text x="476.4" y="397.9" font-size="10" text-anchor="middle" font-weight="bold" font-style="normal" fill="#111" textLength="24.2" lengthAdjust="spacingAndGlyphs" >Heart</text>
<text transform="translate(403.4,480.9) rotate(-90)" font-size="8.4" text-anchor="middle" fill="#1a1a1a" textLength="42.3" lengthAdjust="spacingAndGlyphs" stroke="#1a1a1a" stroke-width="0.22">CFU in heart</text>
<line x1="456.2" y1="417.0" x2="498" y2="417.0" stroke="#2a2a2a" stroke-width="1.1" />
<text x="477.1" y="415.4" font-size="7.2" text-anchor="middle" font-weight="normal" font-style="normal" fill="#222"  stroke="#222" stroke-width="0.22">ns</text>
<line x1="456.2" y1="428.1" x2="474.8" y2="428.1" stroke="#2a2a2a" stroke-width="1.1" />
<text x="465.5" y="426.5" font-size="7.2" text-anchor="middle" font-weight="normal" font-style="normal" fill="#222"  stroke="#222" stroke-width="0.22">ns</text>
<line x1="479.6" y1="428.1" x2="498.5" y2="428.1" stroke="#2a2a2a" stroke-width="1.1" />
<text x="489.05" y="426.5" font-size="7.2" text-anchor="middle" font-weight="normal" font-style="normal" fill="#222"  stroke="#222" stroke-width="0.22">ns</text>
<circle cx="456.2" cy="437.9" r="2.7" fill="#fb8c0c"/>
<circle cx="460.2" cy="513.9" r="2.7" fill="#fb8c0c"/>
<circle cx="451.4" cy="519" r="2.7" fill="#fb8c0c"/>
<circle cx="451.4" cy="535.4" r="2.7" fill="#fb8c0c"/>
<circle cx="460.2" cy="535.4" r="2.7" fill="#fb8c0c"/>
<circle cx="477" cy="519" r="2.7" fill="#0a6a4e"/>
<circle cx="472" cy="534" r="2.7" fill="#0a6a4e"/>
<circle cx="474.3" cy="531.6" r="2.7" fill="#0a6a4e"/>
<circle cx="477.5" cy="533.4" r="2.7" fill="#0a6a4e"/>
<circle cx="480.5" cy="533.6" r="2.7" fill="#0a6a4e"/>
<circle cx="483" cy="534" r="2.7" fill="#0a6a4e"/>
<circle cx="493" cy="535.2" r="2.7" fill="#8c85c8"/>
<circle cx="496.3" cy="533.4" r="2.7" fill="#8c85c8"/>
<circle cx="500" cy="535" r="2.7" fill="#8c85c8"/>
<circle cx="503.5" cy="535.4" r="2.7" fill="#8c85c8"/>
<circle cx="498" cy="535.6" r="2.7" fill="#8c85c8"/>
<line x1="449.3" y1="519" x2="463.3" y2="519" stroke="#333" stroke-width="1.4" />
<line x1="470.3" y1="533.8" x2="484.3" y2="533.8" stroke="#333" stroke-width="1.4" />
<line x1="491.8" y1="535.4" x2="505.8" y2="535.4" stroke="#3c3c3c" stroke-width="1.4" />
<text transform="translate(459.80,544.9) rotate(-45)" font-size="8.6" text-anchor="end" fill="#1a1a1a" textLength="19.6" lengthAdjust="spacingAndGlyphs" stroke="#1a1a1a" stroke-width="0.22">siLUC</text>
<text transform="translate(480.90,544.9) rotate(-45)" font-size="8.6" text-anchor="end" fill="#1a1a1a" textLength="18.6" lengthAdjust="spacingAndGlyphs" stroke="#1a1a1a" stroke-width="0.22">siFga</text>
<text transform="translate(502.00,544.9) rotate(-45)" font-size="8.6" text-anchor="end" fill="#1a1a1a" textLength="37.5" lengthAdjust="spacingAndGlyphs" stroke="#1a1a1a" stroke-width="0.22">Uninjected</text>
<rect x="0.5" y="0.5" width="519" height="578" fill="none" stroke="#000" stroke-width="1.2"/>
</svg></body></html>
